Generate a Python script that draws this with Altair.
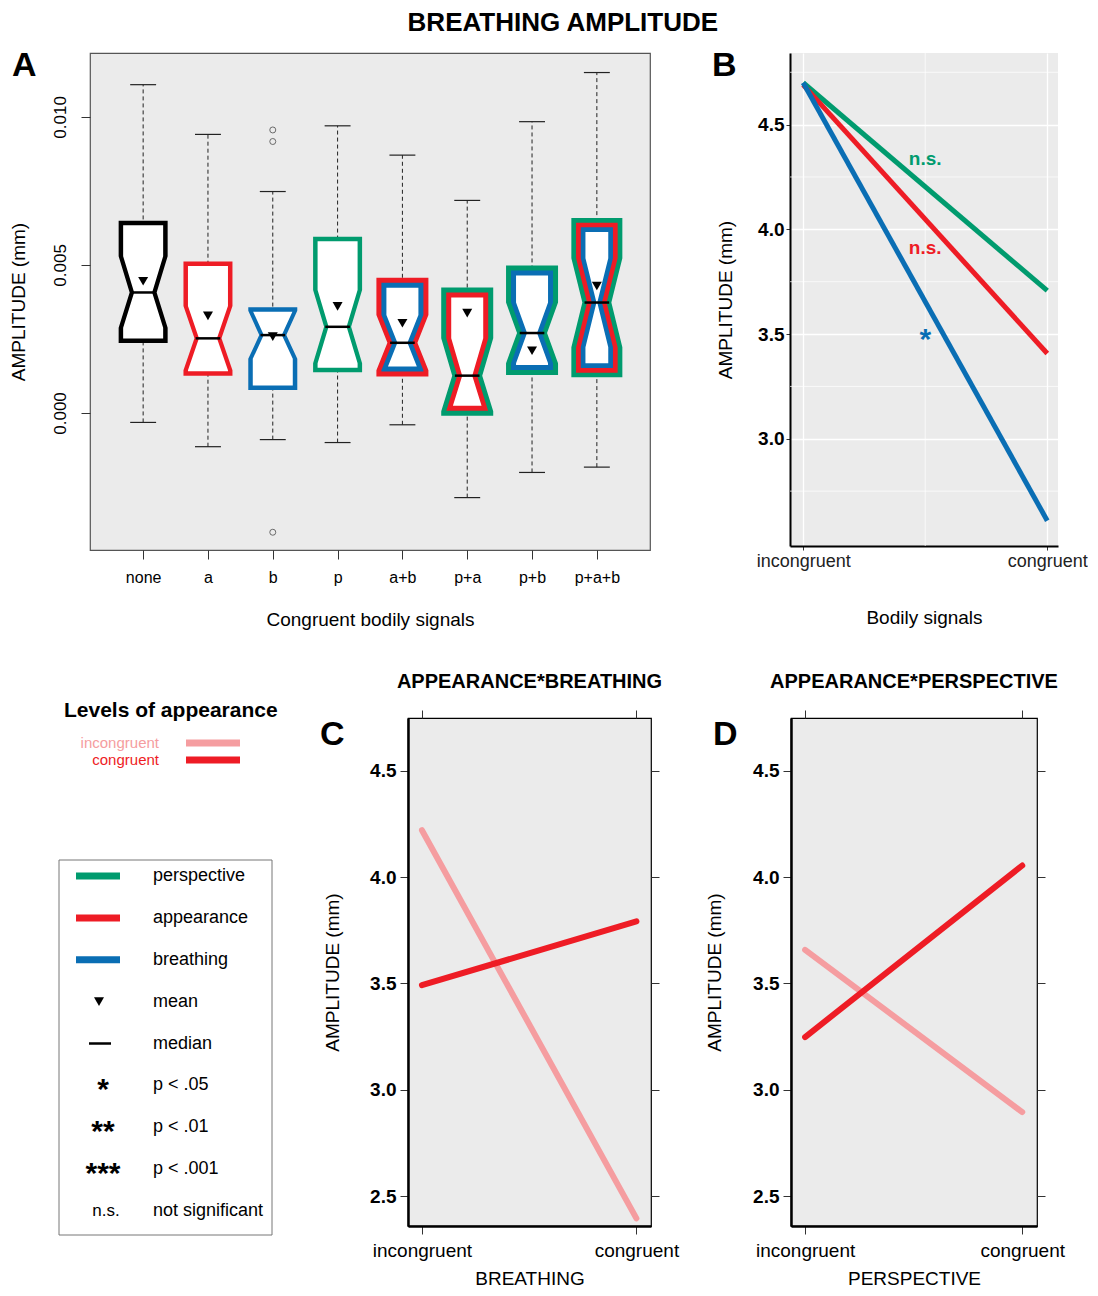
import altair as alt
import pandas as pd

FONT = "Liberation Sans"
GREEN, RED, BLUE, PINK, BLACK = "#009B6E", "#EE1C25", "#0A6EB4", "#F59DA0", "#000000"
BG = "#EBEBEB"

# ---------------- Panel A: notched box plots ----------------
cats = ["none", "a", "b", "p", "a+b", "p+a", "p+b", "p+a+b"]
whisk_hi = [0.01109, 0.00941, 0.00748, 0.00970, 0.00871, 0.00718, 0.00984, 0.01150]
q3 = [0.00641, 0.00503, 0.00349, 0.00587, 0.00443, 0.00410, 0.00485, 0.00647]
notch_hi = [0.00529, 0.00361, 0.00345, 0.00415, 0.00331, 0.00252, 0.00373, 0.00523]
medians = [0.00407, 0.00252, 0.00263, 0.00291, 0.00237, 0.00126, 0.00270, 0.00373]
notch_lo = [0.00288, 0.00144, 0.00183, 0.00168, 0.00144, 0.00006, 0.00168, 0.00222]
q1 = [0.00245, 0.00134, 0.00086, 0.00146, 0.00137, 0.00004, 0.00142, 0.00132]
whisk_lo = [-0.00032, -0.00114, -0.00090, -0.00100, -0.00040, -0.00286, -0.00201, -0.00183]
means = [0.00445, 0.00328, 0.00258, 0.00360, 0.00303, 0.00337, 0.00210, 0.00429]
outlier_cat = ["b", "b", "b"]
outlier_val = [0.00956, 0.00917, -0.00403]
box_signals = [["none"], ["appearance"], ["breathing"], ["perspective"],
               ["appearance", "breathing"], ["perspective", "appearance"],
               ["perspective", "breathing"], ["perspective", "appearance", "breathing"]]
signal_colour = {"none": BLACK, "appearance": RED, "breathing": BLUE, "perspective": GREEN}

# ---------------- Panel B ----------------
signals = ["perspective", "appearance", "breathing"]
signal_colors = [GREEN, RED, BLUE]
b_incongruent = [4.70, 4.69, 4.70]
b_congruent = [3.707, 3.407, 2.609]
b_minor_y = [2.75, 3.25, 3.75, 4.25, 4.75]
b_minor_x = [1.5]
ann_text = ["n.s.", "n.s.", "*"]
ann_signal = ["perspective", "appearance", "breathing"]
ann_x = [1.5, 1.5, 1.5]
ann_y = [4.335, 3.912, 3.494]

# ---------------- Panels C & D ----------------
conditions = ["incongruent", "congruent"]
levels = ["incongruent", "congruent"]
level_colors = [PINK, RED]
c_incongruent = [4.221, 2.395]
c_congruent = [3.492, 3.792]
d_incongruent = [3.658, 2.895]
d_congruent = [3.248, 4.055]

# ---------------- Legend ----------------
leg_rows = ["perspective", "appearance", "breathing", "mean", "median",
            "p < .05", "p < .01", "p < .001", "not significant"]
leg_line_rows = ["perspective", "appearance", "breathing"]
leg_star_rows = ["p < .05", "p < .01", "p < .001"]
leg_star_syms = ["*", "**", "***"]
leg_ns_row = ["not significant"]
leg_ns_sym = ["n.s."]
panel_letters = ["A", "B", "C", "D"]


def lab_expr(labels):
    return "[" + ",".join("'" + s + "'" for s in labels) + "][datum.value - 1]"


def letter_layer(letter, dx, dy):
    return alt.Chart(pd.DataFrame({"t": [letter]})).mark_text(
        fontSize=34, fontWeight="bold", align="left", baseline="top", color="black"
    ).encode(text="t:N", x=alt.value(dx), y=alt.value(dy))


# ===== Panel A =====
W_A, H_A = 560, 497
XA = [0.18, 8.82]
YA = [-0.00463, 0.01216]
ux = (XA[1] - XA[0]) / W_A
uy = (YA[1] - YA[0]) / H_A
HALF = 22.0
RING = {1: (2.5, 4.5), 2: (4.0, 5.0), 3: (3.5, 4.7)}

poly_rows = []
for i, c in enumerate(cats):
    pos = i + 1
    ky = [q1[i], notch_lo[i], medians[i], notch_hi[i], q3[i]]
    kw = [HALF, HALF, HALF / 2, HALF, HALF]

    def w_at(y, ky=ky, kw=kw):
        if y <= ky[0]:
            return kw[0]
        if y >= ky[-1]:
            return kw[-1]
        for a in range(len(ky) - 1):
            if ky[a] <= y <= ky[a + 1]:
                span = ky[a + 1] - ky[a]
                f = 0 if span == 0 else (y - ky[a]) / span
                return kw[a] + f * (kw[a + 1] - kw[a])
        return kw[-1]

    sigs = box_signals[i]
    o, t = RING[len(sigs)]
    fills = [signal_colour[s] for s in sigs] + ["#FFFFFF"]
    for j, fill in enumerate(fills):
        d = o - j * t
        yb = q1[i] - d * uy
        yt = q3[i] + d * uy
        ys = [yb] + [y for y in ky[1:4] if yb < y < yt] + [yt]
        hws = [max(0.0, w_at(y) + d) * ux for y in ys]
        pts = [(pos - hw, y) for hw, y in zip(hws, ys)] + \
              [(pos + hw, y) for hw, y in reversed(list(zip(hws, ys)))]
        pts.append(pts[0])
        for k, (px, py) in enumerate(pts):
            poly_rows.append(dict(grp=f"{c}|{j}", ring=j, col=fill, px=px, py=py, k=k))
poly_df = pd.DataFrame(poly_rows)

stats = pd.DataFrame({"cat": cats, "pos": list(range(1, len(cats) + 1)),
                      "wlo": whisk_lo, "whi": whisk_hi, "med": medians, "mean": means})
out_df = pd.DataFrame({"pos": [cats.index(c) + 1 for c in outlier_cat], "val": outlier_val})

xA = alt.Scale(domain=XA, nice=False, zero=False)
yA = alt.Scale(domain=YA, nice=False, zero=False)
axA_x = alt.Axis(values=list(range(1, len(cats) + 1)), labelExpr=lab_expr(cats), tickSize=9,
                 tickColor="#333", labelFontSize=16, labelColor="black", labelPadding=10,
                 domain=False, grid=False, title="Congruent bodily signals", titleFontSize=19,
                 titleFontWeight="normal", titleColor="black", titlePadding=25)
axA_y = alt.Axis(values=[0, 0.005, 0.01], format=".3f", labelAngle=270, labelAlign="center",
                 labelBaseline="bottom", tickSize=9, tickColor="#333", labelFontSize=17,
                 labelColor="black", labelPadding=12, domain=False, grid=False,
                 title="AMPLITUDE (mm)", titleFontSize=19, titleFontWeight="normal",
                 titleColor="black", titlePadding=23)

whisk = alt.Chart(stats).mark_rule(strokeDash=[4, 3], strokeWidth=1, color="#222").encode(
    x=alt.X("pos:Q", scale=xA, axis=axA_x), y=alt.Y("wlo:Q", scale=yA, axis=axA_y), y2="whi:Q")
caps = alt.Chart(stats).transform_calculate(cl="datum.pos - 0.2", cr="datum.pos + 0.2").transform_fold(
    ["wlo", "whi"], as_=["end", "val"]).mark_rule(strokeWidth=1.2, color="#222").encode(
    x=alt.X("cl:Q", scale=xA, axis=None), x2="cr:Q", y=alt.Y("val:Q", scale=yA, axis=None))
box_layers = []
for j in range(4):
    box_layers.append(alt.Chart(poly_df).transform_filter(alt.datum.ring == j).mark_line(
        filled=True, strokeWidth=0, interpolate="linear").encode(
        x=alt.X("px:Q", scale=xA, axis=None),
        y=alt.Y("py:Q", scale=yA, axis=None),
        detail="grp:N", order=alt.Order("k:Q"),
        fill=alt.Fill("col:N", scale=None)))
med_rule = alt.Chart(stats).transform_calculate(ml="datum.pos - 0.19", mr="datum.pos + 0.19").mark_rule(
    strokeWidth=2.5, color="black").encode(
    x=alt.X("ml:Q", scale=xA, axis=None), x2="mr:Q", y=alt.Y("med:Q", scale=yA, axis=None))
mean_pts = alt.Chart(stats).mark_point(shape="triangle-down", filled=True, size=100, color="black",
                                        opacity=1).encode(
    x=alt.X("pos:Q", scale=xA, axis=None), y=alt.Y("mean:Q", scale=yA, axis=None))
outl = alt.Chart(out_df).mark_point(shape="circle", filled=False, size=36, color="#222",
                                    strokeWidth=0.9).encode(
    x=alt.X("pos:Q", scale=xA, axis=None), y=alt.Y("val:Q", scale=yA, axis=None))

panelA = alt.layer(whisk, caps, *box_layers, med_rule, mean_pts, outl,
                   letter_layer(panel_letters[0], -78, -4)).resolve_axis(
    x="independent", y="independent").properties(
    width=W_A, height=H_A, view=alt.ViewBackground(fill=BG, stroke="#555", strokeWidth=1.2))

# ===== Panel B =====
W_B = 268
xB = alt.Scale(domain=[0.946, 2.044], nice=False, zero=False)
yB = alt.Scale(domain=[2.488, 4.842], nice=False, zero=False)
b_rows = []
for s, a, b in zip(signals, b_incongruent, b_congruent):
    b_rows.append(dict(signal=s, x=1, y=a))
    b_rows.append(dict(signal=s, x=2, y=b))
b_df = pd.DataFrame(b_rows)
sig_color = alt.Color("signal:N", scale=alt.Scale(domain=signals, range=signal_colors), legend=None)

axB_x = alt.Axis(values=[1, 2], labelExpr=lab_expr(conditions), grid=True, gridColor="white",
                 gridWidth=1.3, domain=True, domainColor="black", domainWidth=2, tickSize=4,
                 tickColor="#333", labelFontSize=18, labelColor="#222", labelPadding=2,
                 title="Bodily signals", titleFontSize=19, titleFontWeight="normal",
                 titleColor="black", titlePadding=38)
axB_y = alt.Axis(values=[3.0, 3.5, 4.0, 4.5], format=".1f", grid=True, gridColor="white",
                 gridWidth=1.3, domain=True, domainColor="black", domainWidth=2, tickSize=4,
                 tickColor="#333", labelFontSize=19, labelFontWeight="bold", labelColor="black",
                 labelPadding=2, title="AMPLITUDE (mm)", titleFontSize=19,
                 titleFontWeight="normal", titleColor="black", titlePadding=22)

minor_y = alt.Chart(pd.DataFrame({"v": b_minor_y})).mark_rule(color="white", strokeWidth=0.7).encode(
    y=alt.Y("v:Q", scale=yB, axis=None))
minor_x = alt.Chart(pd.DataFrame({"v": b_minor_x})).mark_rule(color="white", strokeWidth=0.7).encode(
    x=alt.X("v:Q", scale=xB, axis=None))
b_lines = []
for idx, s in enumerate(signals):
    b_lines.append(alt.Chart(b_df).transform_filter(alt.datum.signal == s).mark_line(
        strokeWidth=5).encode(
        x=alt.X("x:Q", scale=xB, axis=axB_x if idx == 0 else None),
        y=alt.Y("y:Q", scale=yB, axis=axB_y if idx == 0 else None),
        color=sig_color))
ann_df = pd.DataFrame({"t": ann_text, "signal": ann_signal, "x": ann_x, "y": ann_y})
ann_ns = alt.Chart(ann_df).transform_filter(alt.datum.t == "n.s.").mark_text(
    fontSize=19, fontWeight="bold", baseline="middle").encode(
    x=alt.X("x:Q", scale=xB, axis=None), y=alt.Y("y:Q", scale=yB, axis=None), text="t:N", color=sig_color)
ann_star = alt.Chart(ann_df).transform_filter(alt.datum.t == "*").mark_text(
    fontSize=30, fontWeight="bold", baseline="middle", dy=5).encode(
    x=alt.X("x:Q", scale=xB, axis=None), y=alt.Y("y:Q", scale=yB, axis=None), text="t:N", color=sig_color)

panelB = alt.layer(minor_y, minor_x, *b_lines, ann_ns, ann_star,
                   letter_layer(panel_letters[1], -78, -4)).resolve_axis(
    x="independent", y="independent").properties(
    width=W_B, height=493, view=alt.ViewBackground(fill=BG, stroke=None))


# ===== Panels C & D =====
def interaction_panel(inc_vals, con_vals, title, xtitle, letter, ytitle_pad, width, letter_dx):
    rows_ = []
    for lev, vals in zip(levels, [inc_vals, con_vals]):
        for xi, v in enumerate(vals):
            rows_.append(dict(level=lev, x=xi + 1, y=v))
    df = pd.DataFrame(rows_)
    xs = alt.Scale(domain=[0.935, 2.068], nice=False, zero=False)
    ys = alt.Scale(domain=[2.359, 4.749], nice=False, zero=False)
    yvals = [2.5, 3.0, 3.5, 4.0, 4.5]
    ax_left = alt.Axis(values=yvals, format=".1f", domain=True, domainColor="black",
                       domainWidth=2.5, tickSize=8, tickColor="#333", labelFontSize=19,
                       labelFontWeight="bold", labelColor="black", labelPadding=4, grid=False,
                       title="AMPLITUDE (mm)", titleFontSize=19, titleFontWeight="normal",
                       titleColor="black", titlePadding=ytitle_pad)
    ax_bottom = alt.Axis(values=[1, 2], labelExpr=lab_expr(conditions), domain=True,
                         domainColor="black", domainWidth=2.5, tickSize=8, tickColor="#333",
                         labelFontSize=19, labelColor="black", labelPadding=7, grid=False,
                         title=xtitle, titleFontSize=19, titleFontWeight="normal",
                         titleColor="black", titlePadding=9)
    ax_top = alt.Axis(orient="top", values=[1, 2], labels=False, domain=False, tickSize=8,
                      tickColor="#333", grid=False)
    ax_right = alt.Axis(orient="right", values=yvals, labels=False, domain=False, tickSize=8,
                        tickColor="#333", grid=False)
    col = alt.Color("level:N", scale=alt.Scale(domain=levels, range=level_colors), legend=None)
    layers = []
    for idx, lev in enumerate(levels):
        layers.append(alt.Chart(df).transform_filter(alt.datum.level == lev).mark_line(
            strokeWidth=6, strokeCap="round").encode(
            x=alt.X("x:Q", scale=xs, axis=ax_bottom if idx == 0 else None),
            y=alt.Y("y:Q", scale=ys, axis=ax_left if idx == 0 else None),
            color=col))
    ticks = alt.Chart(df).transform_filter(alt.datum.level == levels[0]).mark_line(
        opacity=0).encode(x=alt.X("x:Q", scale=xs, axis=ax_top, title=None),
                          y=alt.Y("y:Q", scale=ys, axis=ax_right, title=None))
    return alt.layer(*layers, ticks, letter_layer(letter, letter_dx, 0)).resolve_axis(
        x="independent", y="independent").properties(
        width=width, height=508,
        title=alt.TitleParams(title, fontSize=20, fontWeight="bold", frame="group",
                              anchor="middle", offset=18, color="black"),
        view=alt.ViewBackground(fill=BG, stroke="black", strokeWidth=1.2))


panelC = interaction_panel(c_incongruent, c_congruent, "APPEARANCE*BREATHING", "BREATHING",
                           panel_letters[2], 27, 243, -88)
panelD = interaction_panel(d_incongruent, d_congruent, "APPEARANCE*PERSPECTIVE", "PERSPECTIVE",
                           panel_letters[3], 28, 246, -78)

# ===== Legends (view origin shared with panel A's plot area) =====
LEG_W = 205
lev_df = pd.DataFrame({"level": levels})
lev_color = alt.Color("level:N", scale=alt.Scale(domain=levels, range=level_colors), legend=None)
lev_y = alt.Y("level:N", scale=alt.Scale(type="point", domain=levels, range=[25, 42], padding=0), axis=None)
leg1_title = alt.Chart(pd.DataFrame({"t": ["Levels of appearance"]})).mark_text(
    fontSize=21, fontWeight="bold", align="left", baseline="middle", color="black").encode(
    text="t:N", x=alt.value(-26), y=alt.value(-7))
leg1_text = alt.Chart(lev_df).mark_text(fontSize=15, align="right", baseline="middle").encode(
    text="level:N", x=alt.value(69), y=lev_y, color=lev_color)
leg1_bar = alt.Chart(lev_df).mark_rule(strokeWidth=7).encode(
    x=alt.value(96), x2=alt.value(150), y=lev_y, color=lev_color)
leg1 = alt.layer(leg1_title, leg1_text, leg1_bar).properties(
    width=LEG_W, height=50, view=alt.ViewBackground(fill=None, stroke=None))

leg_df = pd.DataFrame({"row": leg_rows})
row_y = alt.Y("row:N", scale=alt.Scale(type="point", domain=leg_rows, range=[16, 351], padding=0), axis=None)
leg_frame = alt.Chart(pd.DataFrame({"f": [0]})).mark_rect(
    fill="white", stroke="#777", strokeWidth=1).encode(
    x=alt.value(-31), x2=alt.value(182), y=alt.value(0), y2=alt.value(375))
leg_lines = alt.Chart(pd.DataFrame({"row": leg_line_rows})).mark_rule(strokeWidth=7).encode(
    x=alt.value(-14), x2=alt.value(30), y=row_y,
    color=alt.Color("row:N", scale=alt.Scale(domain=signals, range=signal_colors), legend=None))
leg_mean = alt.Chart(pd.DataFrame({"row": ["mean"]})).mark_point(
    shape="triangle-down", filled=True, size=100, color="black", opacity=1).encode(
    x=alt.value(9), y=row_y)
leg_median = alt.Chart(pd.DataFrame({"row": ["median"]})).mark_rule(strokeWidth=2.5, color="black").encode(
    x=alt.value(-1), x2=alt.value(21), y=row_y)
leg_stars = alt.Chart(pd.DataFrame({"row": leg_star_rows, "s": leg_star_syms})).mark_text(
    fontSize=30, fontWeight="bold", baseline="middle", dy=5, color="black").encode(
    x=alt.value(13), y=row_y, text="s:N")
leg_ns = alt.Chart(pd.DataFrame({"row": leg_ns_row, "s": leg_ns_sym})).mark_text(
    fontSize=17, baseline="middle", color="black").encode(
    x=alt.value(16), y=row_y, text="s:N")
leg_labels = alt.Chart(leg_df).mark_text(fontSize=18, align="left", baseline="middle", color="black").encode(
    x=alt.value(63), y=row_y, text="row:N")
leg2 = alt.layer(leg_frame, leg_lines, leg_mean, leg_median, leg_stars, leg_ns, leg_labels).properties(
    width=LEG_W, height=375, view=alt.ViewBackground(fill=None, stroke=None))

legend_col = alt.vconcat(leg1, leg2, spacing=91).resolve_scale(color="independent")

row1 = alt.hconcat(panelA, panelB, spacing=61).resolve_scale(color="independent")
row2 = alt.hconcat(legend_col, panelC, panelD, spacing=24).resolve_scale(color="independent")

chart = alt.vconcat(row1, row2, spacing=40).resolve_scale(color="independent").properties(
    title=alt.TitleParams("BREATHING AMPLITUDE", fontSize=26, fontWeight="bold", anchor="middle",
                          dx=15, offset=12, color="black"),
    padding={"left": 0, "top": 2, "right": 0, "bottom": 0},
).configure(font=FONT).configure_view(stroke=None).configure_axis(
    labelFont=FONT, titleFont=FONT).configure_title(font=FONT).configure_text(font=FONT)

chart.save("out.html", embed_options={"renderer": "svg", "actions": False})
